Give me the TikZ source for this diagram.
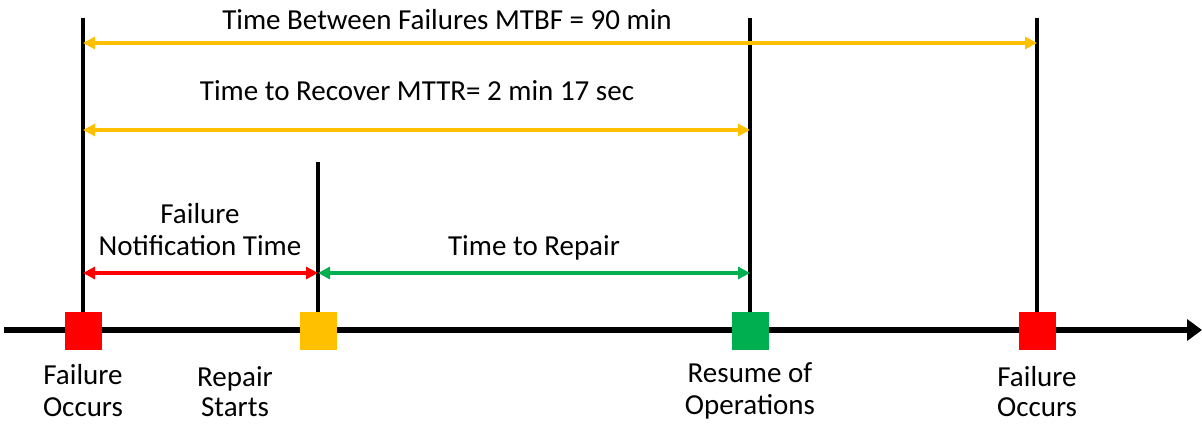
\documentclass[tikz,border=0pt]{standalone}
\usepackage{fontspec}
\setmainfont{Carlito}
\usetikzlibrary{arrows.meta}
\definecolor{failred}{HTML}{FF0000}
\definecolor{gold}{HTML}{FFC000}
\definecolor{okgreen}{HTML}{00B050}
\tikzset{
  lbl/.style={font=\fontsize{29}{33}\selectfont, inner sep=0pt, anchor=base, align=center},
  marker/.style={draw=none, fill=#1, minimum width=37pt, minimum height=38pt, inner sep=0pt},
  tick/.style={line width=3.5pt, black},
  span/.style={line width=3.5pt, draw=#1, {Triangle[length=12pt,width=12pt]}-{Triangle[length=12pt,width=12pt]}},
}
\begin{document}
\begin{tikzpicture}[x=1pt,y=-1pt]
\useasboundingbox (0,0) rectangle (1202,426);

% time axis
\coordinate (axL) at (4,330);
\coordinate (axR) at (1202,330);
\draw[line width=6pt, -{Triangle[length=15pt,width=21pt]}] (axL) -- (axR);

% event markers
\node[marker=failred] (f1) at (83,331) {};
\node[marker=gold] (rs) at (318,331) {};
\node[marker=okgreen] (ro) at (750,331) {};
\node[marker=failred] (f2) at (1037,331) {};

% vertical event lines
\coordinate (f1top) at (83,18);
\coordinate (rstop) at (318,162);
\coordinate (rotop) at (750,18);
\coordinate (f2top) at (1037,18);
\draw[tick] (f1.north) -- (f1top);
\draw[tick] (rs.north) -- (rstop);
\draw[tick] (ro.north) -- (rotop);
\draw[tick] (f2.north) -- (f2top);

% interval arrows
\coordinate (a1) at (83,43);   \coordinate (a2) at (1037,43);
\coordinate (b1) at (83,130);  \coordinate (b2) at (750,130);
\coordinate (c1) at (83,273);  \coordinate (c2) at (318,273);
\coordinate (d2) at (750,273);
\draw[span=gold] (a1) -- (a2);
\draw[span=gold] (b1) -- (b2);
\draw[span=failred] (c1) -- (c2);
\draw[span=okgreen] (c2) -- (d2);

% interval labels
\node[lbl] (tmtbf) at (447,29) {Time Between Failures MTBF = 90 min};
\node[lbl] (tmttr) at (417,100) {Time to Recover MTTR= 2 min 17 sec};
\node[lbl] (tnot1) at (200,223) {Failure};
\node[lbl] (tnot2) at (200,255) {Notification Time};
\node[lbl] (trep) at (534,255) {Time to Repair};

% event labels
\node[lbl] (l1a) at (83,384) {Failure};
\node[lbl] (l1b) at (83,416) {Occurs};
\node[lbl] (l2a) at (235,386) {Repair};
\node[lbl] (l2b) at (235,416) {Starts};
\node[lbl] (l3a) at (750,382) {Resume of};
\node[lbl] (l3b) at (750,414) {Operations};
\node[lbl] (l4a) at (1037,386) {Failure};
\node[lbl] (l4b) at (1037,416) {Occurs};
\end{tikzpicture}
\end{document}
